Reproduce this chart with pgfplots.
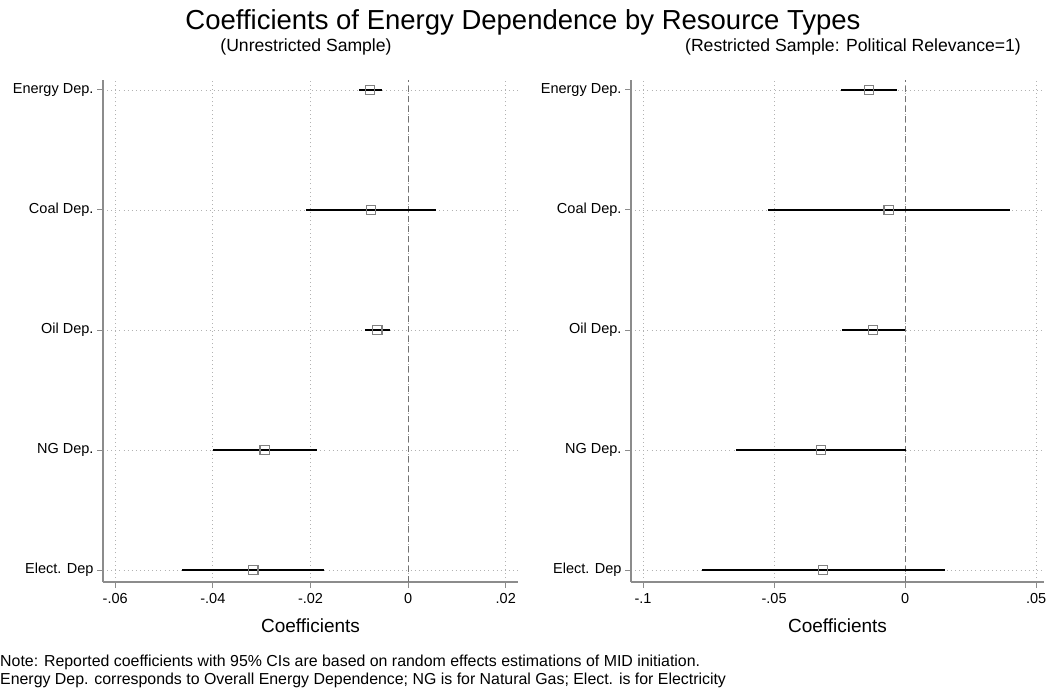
\documentclass[border=0pt]{standalone}
\usepackage{fontspec}
\setmainfont{Liberation Sans}
\usepackage{pgfplots}
\pgfplotsset{compat=1.18}
\begin{document}
\begin{tikzpicture}
\path[use as bounding box] (0pt,0pt) rectangle (1046pt,689pt);
\pgfplotsset{
 coefax/.style={
  scale only axis, height=502pt, anchor=south west,
  ymin=0.9, ymax=5.083333,
  ytick={1,2,3,4,5},
  yticklabels={Elect. Dep, NG Dep., Oil Dep., Coal Dep., Energy Dep.},
  axis x line*=bottom, axis y line*=left,
  axis line style={black!45, line width=1.2pt},
  tick align=outside, major tick length=6pt,
  tick style={black!45, line width=1pt},
  grid=major, grid style={black!30, line width=0.9pt, dash pattern=on 0.9pt off 3.2pt},
  ticklabel style={font=\fontsize{14.5}{17}\selectfont},
  xticklabel style={yshift=-2pt},
  scaled x ticks=false,
  xlabel={Coefficients},
  xlabel style={font=\fontsize{19}{22}\selectfont, at={(axis description cs:0.5,0)}, anchor=center, yshift=-44pt},
 },
 ciplot/.style={only marks, mark=square, mark size=4.6pt,
  mark options={draw=black!50, fill=none, line width=1.2pt},
  error bars/.cd, x dir=both, x explicit, error mark=none,
  error bar style={black, line width=2pt}},
}
\begin{axis}[coefax, at={(103pt,107pt)}, width=415pt,
  xmin=-0.0625, xmax=0.0225,
  xtick={-0.06,-0.04,-0.02,0,0.02},
  xticklabels={-.06,-.04,-.02,0,.02}]
\addplot[black!55, line width=1.1pt, dash pattern=on 6pt off 4pt] coordinates {(0,0.9) (0,5.083333)};
\addplot[ciplot] table[x=c, y=y, x error plus=ep, x error minus=em] {
y c ep em
5 -0.0078 0.0025 0.0022
4 -0.0076 0.0133 0.0133
3 -0.0063 0.0026 0.0025
2 -0.0294 0.0107 0.0106
1 -0.0317 0.0145 0.0146
};
\end{axis}
\begin{axis}[coefax, at={(631pt,107pt)}, width=413pt,
  xmin=-0.1046, xmax=0.053,
  xtick={-0.1,-0.05,0,0.05},
  xticklabels={-.1,-.05,0,.05}]
\addplot[black!55, line width=1.1pt, dash pattern=on 6pt off 4pt] coordinates {(0,0.9) (0,5.083333)};
\addplot[ciplot] table[x=c, y=y, x error plus=ep, x error minus=em] {
y c ep em
5 -0.0138 0.0106 0.0105
4 -0.0063 0.0463 0.0462
3 -0.0123 0.0122 0.0118
2 -0.0320 0.0324 0.0327
1 -0.0313 0.0466 0.0463
};
\end{axis}
\node[font=\fontsize{27.5}{32}\selectfont] at (523pt,667pt) {Coefficients of Energy Dependence by Resource Types};
\node[font=\fontsize{17.6}{21}\selectfont] at (306pt,642pt) {(Unrestricted Sample)};
\node[font=\fontsize{17.6}{21}\selectfont] at (853pt,642pt) {(Restricted Sample: Political Relevance=1)};
\node[font=\fontsize{15.9}{19}\selectfont, anchor=west, inner sep=0pt] at (0pt,27pt) {Note: Reported coefficients with 95\% CIs are based on random effects estimations of MID initiation.};
\node[font=\fontsize{15.9}{19}\selectfont, anchor=west, inner sep=0pt] at (0pt,9pt) {Energy Dep. corresponds to Overall Energy Dependence; NG is for Natural Gas; Elect. is for Electricity};
\end{tikzpicture}
\end{document}
